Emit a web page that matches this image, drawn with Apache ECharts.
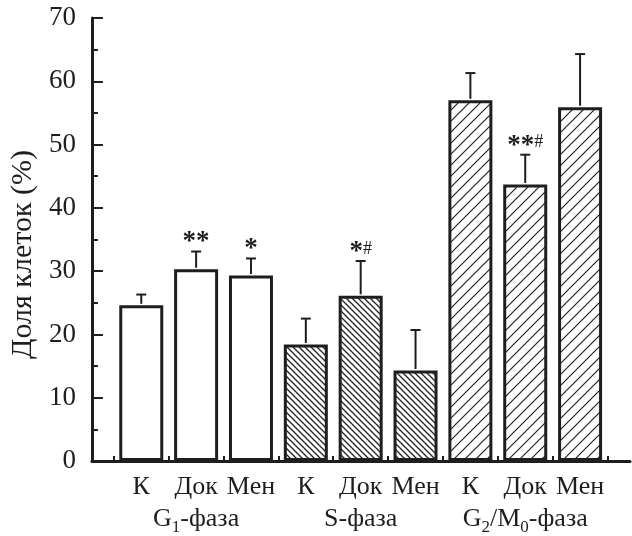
<!DOCTYPE html>
<html><head><meta charset="utf-8">
<script src="https://cdn.jsdelivr.net/npm/echarts@6/dist/echarts.min.js"></script>
<style>html,body{margin:0;padding:0;background:#fff}#c{width:632px;height:536px}</style>
</head><body><div id="c"></div>
<script>
const categories = ['К','Док','Мен','К','Док','Мен','К','Док','Мен'];
const phaseOfBar = [0,0,0,1,1,1,2,2,2];
const groupLabels = ['{t|G}{s|1}{t|-фаза}', '{t|S-фаза}', '{t|G}{s|2}{t|/M}{s|0}{t|-фаза}'];
const groupCenterBar = [1,4,7];
const means = [24.6, 30.3, 29.3, 18.4, 26.1, 14.3, 57.0, 43.7, 55.9];
const upper = [26.3, 33.1, 32.0, 22.5, 31.6, 20.7, 61.3, 48.4, 64.3];
const marks = ['', '**', '*', '', '*#', '', '', '**#', ''];
const yMin = 0, yMax = 70, yStep = 10;
const yTitle = 'Доля клеток (%)';

const INK = '#1e1e1e';
const FONT = '"Liberation Serif", "Times New Roman", serif';

function hatch(size, back, lw) {
  const c = document.createElement('canvas');
  c.width = c.height = size;
  const g = c.getContext('2d');
  g.fillStyle = '#fff'; g.fillRect(0,0,size,size);
  g.strokeStyle = '#222'; g.lineWidth = lw; g.beginPath();
  if (back) {
    g.moveTo(-1,-1); g.lineTo(size+1,size+1);
    g.moveTo(size-1,-1); g.lineTo(size+1,1);
    g.moveTo(-1,size-1); g.lineTo(1,size+1);
  } else {
    g.moveTo(-1,size+1); g.lineTo(size+1,-1);
    g.moveTo(-1,1); g.lineTo(1,-1);
    g.moveTo(size-1,size+1); g.lineTo(size+1,size-1);
  }
  g.stroke();
  return c;
}
const fills = ['#ffffff', {image: hatch(6, true, 1.3), repeat:'repeat'}, {image: hatch(11, false, 1.2), repeat:'repeat'}];

const idx = categories.map((_, i) => i);
const halfIdx = [-0.5].concat(idx.map(i => i + 0.5));

const barData = means.map((v, i) => ({
  value: [i, v],
  itemStyle: {color: fills[phaseOfBar[i]], borderColor: INK, borderWidth: 3}
}));
const errData = means.map((v, i) => [i, v, upper[i], marks[i]]);

function markRich(m) {
  if (!m) return '';
  const st = m.replace(/#/g, ''), h = m.includes('#') ? '#' : '';
  return '{st|' + st + '}' + (h ? '{h|' + h + '}' : '');
}

const chart = echarts.init(document.getElementById('c'), null, {renderer:'canvas'});
const xBase = {
  type:'value', min:-0.9, max:8.91, position:'bottom', offset:0,
  splitLine:{show:false}
};
chart.setOption({
  animation:false,
  grid:{left:87, right:2, top:18, bottom:74, containLabel:false},
  xAxis:[
    Object.assign({}, xBase, {
      axisLine:{show:true, onZero:false, lineStyle:{color:INK, width:3}},
      axisTick:{show:true, inside:true, length:8, customValues: idx, lineStyle:{color:INK, width:2}},
      axisLabel:{show:true, customValues: idx, margin:13, color:INK, fontFamily:FONT, fontSize:26,
        formatter: v => categories[Math.round(v)]}
    }),
    Object.assign({}, xBase, {
      axisLine:{show:false, onZero:false},
      axisTick:{show:true, inside:true, length:5, customValues: halfIdx, lineStyle:{color:INK, width:2}},
      axisLabel:{show:true, customValues: groupCenterBar, margin:43, color:INK,
        formatter: v => groupLabels[groupCenterBar.indexOf(Math.round(v))],
        rich:{
          t:{fontFamily:FONT, fontSize:26, color:INK, lineHeight:30},
          s:{fontFamily:FONT, fontSize:17, color:INK, lineHeight:30, verticalAlign:'bottom', padding:[0,0,-2,0]}
        }}
    })
  ],
  yAxis:{
    type:'value', min:yMin, max:yMax, interval:yStep,
    name: yTitle, nameLocation:'middle', nameGap:46, nameRotate:90,
    nameTextStyle:{fontFamily:FONT, fontSize:30, color:INK, padding:[0,30,0,0]},
    axisLine:{show:true, onZero:false, lineStyle:{color:INK, width:3}},
    axisTick:{show:true, inside:true, length:11, lineStyle:{color:INK, width:2}},
    minorTick:{show:true, splitNumber:2, length:6, lineStyle:{color:INK, width:2}},
    axisLabel:{margin:16, color:INK, fontFamily:FONT, fontSize:27},
    splitLine:{show:false}
  },
  series:[
    {type:'bar', xAxisIndex:0, barWidth:44, data:barData, z:2},
    {type:'custom', xAxisIndex:0, data:errData, z:3,
     renderItem:(params, api) => {
       const x = api.value(0), m = api.value(1), hi = api.value(2);
       const p0 = api.coord([x, m]), p1 = api.coord([x, hi]);
       const mk = errData[params.dataIndex][3];
       const children = [
         {type:'line', shape:{x1:p0[0], y1:p0[1]-1.5, x2:p1[0], y2:p1[1]}, style:{stroke:INK, lineWidth:2}},
         {type:'line', shape:{x1:p1[0]-5, y1:p1[1], x2:p1[0]+5, y2:p1[1]}, style:{stroke:INK, lineWidth:2}}
       ];
       if (mk) {
         children.push({type:'text', x:p1[0], y:p1[1]+6, style:{
           text: markRich(mk), align:'center', verticalAlign:'bottom',
           rich:{
             st:{fontFamily:FONT, fontSize:27, fontWeight:'bold', fill:INK, lineHeight:30},
             h:{fontFamily:FONT, fontSize:18, fill:INK, lineHeight:30, verticalAlign:'top', padding:[3,0,0,0]}
           }}});
       }
       return {type:'group', children};
     }}
  ]
});
</script></body></html>
